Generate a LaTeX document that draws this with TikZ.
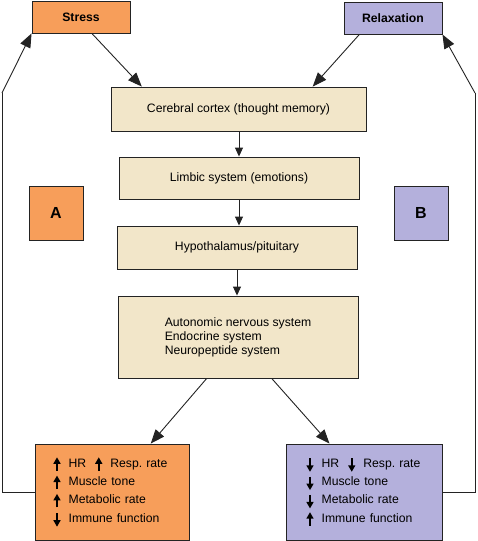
\documentclass[tikz,border=0pt]{standalone}
\usepackage{fontspec}
\setmainfont{Liberation Sans}
\usetikzlibrary{arrows.meta,calc}
\definecolor{orangeF}{RGB}{247,158,90}
\definecolor{lavF}{RGB}{180,176,220}
\definecolor{beigeF}{RGB}{242,230,201}
\definecolor{lineC}{RGB}{35,35,35}
\newcommand{\uarr}{\tikz[baseline=0pt]\draw[line width=1.5pt,-{Triangle[length=6.5pt,width=7pt]}] (0pt,-3.5pt) -- (0pt,10pt);}
\newcommand{\darr}{\tikz[baseline=0pt]\draw[line width=1.5pt,-{Triangle[length=6.5pt,width=7pt]}] (0pt,9pt) -- (0pt,-4.5pt);}
\newcommand{\lpad}{\hspace*{7.5pt}}
\newcommand{\rpad}{\hspace*{8.5pt}}
\begin{document}
\begin{tikzpicture}[x=1pt,y=-1pt,
  every node/.style={font=\fontsize{12.2}{14}\selectfont, text=black},
  box/.style={draw=lineC, line width=0.9pt, inner sep=0pt},
  brainbox/.style={box, fill=beigeF},
  bigarr/.style={draw=lineC, line width=0.9pt, -{Triangle[length=14pt,width=11pt]}},
  smallarr/.style={draw=lineC, line width=0.9pt, -{Triangle[length=9pt,width=8pt]}},
  loopline/.style={draw=lineC, line width=0.9pt}]
\useasboundingbox (0,0) rectangle (477,541);
% top boxes
\node[box, fill=orangeF, minimum width=98, minimum height=32, font=\fontsize{12.2}{14}\selectfont\bfseries] (stress) at (81,17) {Stress};
\node[box, fill=lavF, minimum width=98, minimum height=32, font=\fontsize{12.2}{14}\selectfont\bfseries] (relax) at (393,18) {Relaxation};
% side labels
\node[box, fill=orangeF, minimum width=54, minimum height=54, font=\fontsize{16}{18}\selectfont\bfseries] (A) at (56,213) {A};
\node[box, fill=lavF, minimum width=54, minimum height=54, font=\fontsize{16}{18}\selectfont\bfseries] (B) at (421,213) {B};
% brain boxes
\node[brainbox, minimum width=255, minimum height=44] (cortex) at (238.5,109) {Cerebral cortex (thought memory)};
\node[brainbox, minimum width=240, minimum height=42] (limbic) at (239,178) {Limbic system (emotions)};
\node[brainbox, minimum width=240, minimum height=43] (hypo) at (237,247.5) {Hypothalamus/pituitary};
\node[brainbox, minimum width=240, minimum height=82, align=left] (ans) at (238,337)
  {Autonomic nervous system\\Endocrine system\\Neuropeptide system};
% bottom boxes
\node[box, fill=orangeF, minimum width=154, minimum height=96, align=left, text width=132, font=\fontsize{12.2}{18.3}\selectfont] (sympt) at (112,492)
  {\lpad\uarr\ \ HR\hspace{9pt}\uarr\ \ Resp.\ rate\\\lpad\uarr\ \ Muscle tone\\\lpad\uarr\ \ Metabolic rate\\\lpad\darr\ \ Immune function};
\node[box, fill=lavF, minimum width=156, minimum height=96, align=left, text width=132, font=\fontsize{12.2}{18.3}\selectfont] (relaxed) at (364,492)
  {\rpad\darr\ \ HR\hspace{9pt}\darr\ \ Resp.\ rate\\\rpad\darr\ \ Muscle tone\\\rpad\darr\ \ Metabolic rate\\\rpad\uarr\ \ Immune function};
% arrows into cortex
\draw[bigarr] ($(stress.south west)!0.61!(stress.south east)$) -- ($(cortex.north west)!0.122!(cortex.north east)$);
\draw[bigarr] ($(relax.south west)!0.16!(relax.south east)$) -- ($(cortex.north west)!0.79!(cortex.north east)$);
% chain
\draw[smallarr] (cortex.south -| limbic.north) -- (limbic.north);
\draw[smallarr] (limbic.south) -- (limbic.south |- hypo.north);
\draw[smallarr] (hypo.south) -- (hypo.south |- ans.north);
% outputs
\draw[bigarr] ($(ans.south west)!0.37!(ans.south east)$) -- ($(sympt.north west)!0.75!(sympt.north east)$);
\draw[bigarr] ($(ans.south west)!0.64!(ans.south east)$) -- ($(relaxed.north west)!0.28!(relaxed.north east)$);
% feedback loops
\coordinate (lb) at (2,492);
\coordinate (lt) at (2,93);
\coordinate (rb) at (475,492);
\coordinate (rt) at (475,93);
\draw[loopline] (sympt.west) -- (lb) -- (lt);
\draw[bigarr] (lt) -- (stress.south west);
\draw[loopline] (relaxed.east) -- (rb) -- (rt);
\draw[bigarr] (rt) -- (relax.south east);
\end{tikzpicture}
\end{document}
